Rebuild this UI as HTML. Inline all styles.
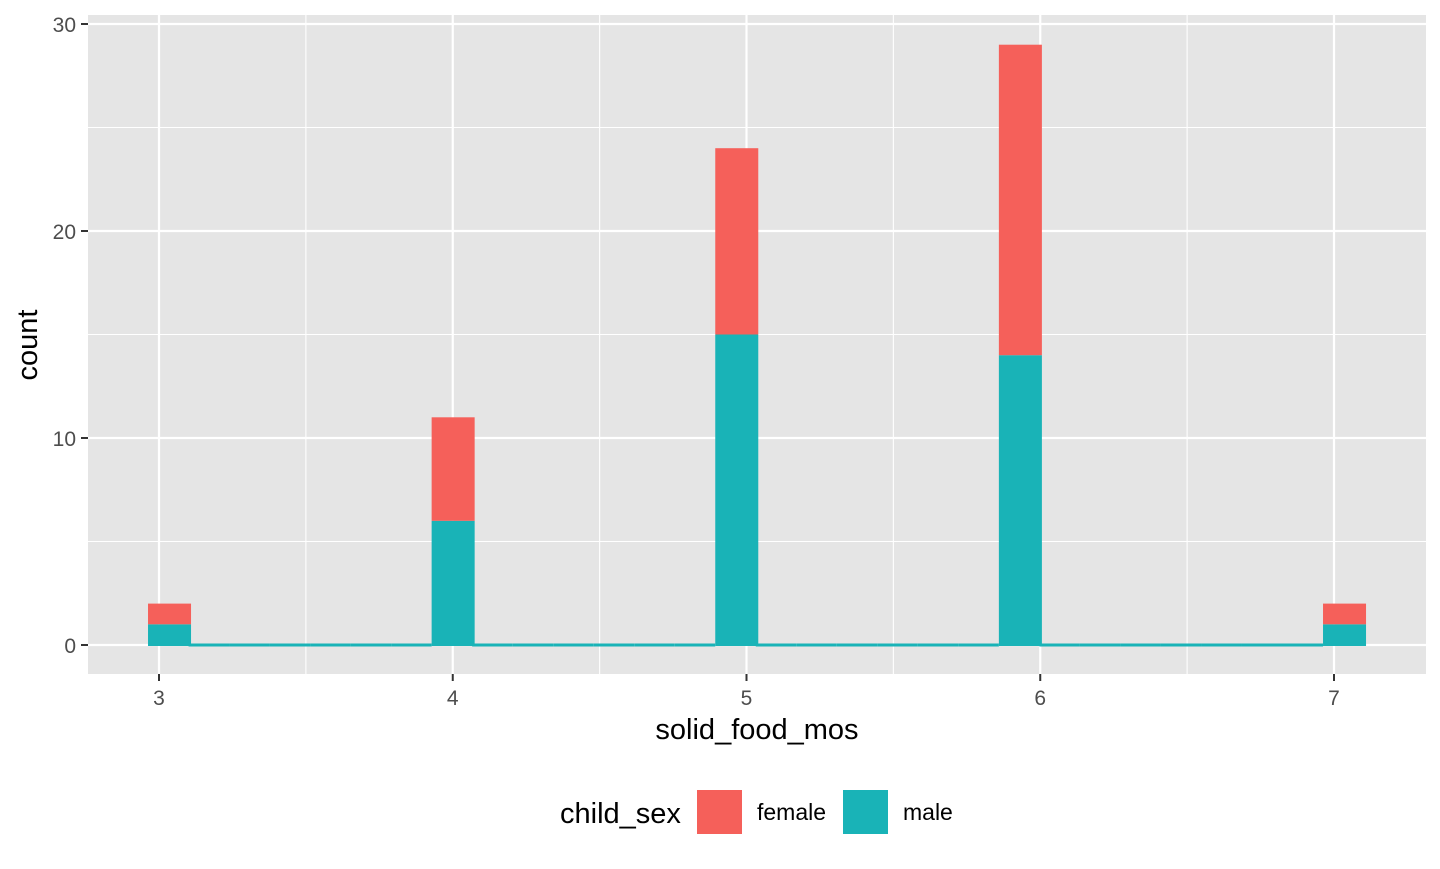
<!DOCTYPE html>
<html><head><meta charset="utf-8"><style>
body{margin:0;background:#fff;}
text{font-family:"Liberation Sans",Arial,sans-serif;}
</style></head><body>
<svg id="chart" width="1440" height="864" xmlns="http://www.w3.org/2000/svg">
<rect x="88" y="15" width="1338" height="659" fill="#e5e5e5"/>
<g id="grid"></g>
<g id="bars"></g>
<g id="axes"></g>
<text x="757" y="739" font-size="29" text-anchor="middle" fill="#000">solid_food_mos</text>
<text x="37" y="345" font-size="29" text-anchor="middle" fill="#000" transform="rotate(-90 37 345)">count</text>
<g>
<text x="560" y="823" font-size="29" fill="#000">child_sex</text>
<rect x="697" y="790" width="45" height="44" fill="#f5605a"/>
<text x="757" y="820" font-size="23" fill="#000">female</text>
<rect x="843" y="790" width="45" height="44" fill="#19b3b7"/>
<text x="903" y="820" font-size="23" fill="#000">male</text>
</g>
</svg>
<script>
const binStart = 2.9626;
const binWidth = 4/29;
const maleCounts =   [1,0,0,0,0,0,0,6,0,0,0,0,0,0,15,0,0,0,0,0,0,14,0,0,0,0,0,0,0,1];
const femaleCounts = [1,0,0,0,0,0,0,5,0,0,0,0,0,0,9,0,0,0,0,0,0,15,0,0,0,0,0,0,0,1];
const xTicks = [3,4,5,6,7];
const xMinor = [3.5,4.5,5.5,6.5];
const yTicks = [0,10,20,30];
const yMinor = [5,15,25];

const NS="http://www.w3.org/2000/svg";
const X = v => 159 + (v-3)*293.75;
const Y = v => 645 - v*20.7;
function mk(tag, attrs, parent){const e=document.createElementNS(NS,tag);for(const k in attrs)e.setAttribute(k,attrs[k]);parent.appendChild(e);return e;}
const grid=document.getElementById('grid'), bars=document.getElementById('bars'), axes=document.getElementById('axes');
xMinor.forEach(v=>{const l=mk('line',{x1:X(v),x2:X(v),y1:15,y2:674,stroke:'#fff','stroke-width':1.1},grid);

});
yMinor.forEach(v=>{const l=mk('line',{x1:88,x2:1426,y1:Y(v),y2:Y(v),stroke:'#fff','stroke-width':1.1},grid);

});
xTicks.forEach(v=>{const l=mk('line',{x1:X(v),x2:X(v),y1:15,y2:674,stroke:'#fff','stroke-width':2.2},grid);


mk('line',{x1:X(v),x2:X(v),y1:674,y2:681,stroke:'#333','stroke-width':2},axes);
const t=mk('text',{x:X(v),y:705,'font-size':21,'text-anchor':'middle',fill:'#4d4d4d'},axes);t.textContent=v;

});
yTicks.forEach(v=>{const l=mk('line',{x1:88,x2:1426,y1:Y(v),y2:Y(v),stroke:'#fff','stroke-width':2.2},grid);


mk('line',{x1:81,x2:88,y1:Y(v),y2:Y(v),stroke:'#333','stroke-width':2},axes);
const t=mk('text',{x:76,y:Y(v)+8,'font-size':21,'text-anchor':'end',fill:'#4d4d4d'},axes);t.textContent=v;

});
maleCounts.forEach((m,i)=>{
  const f=femaleCounts[i];
  const x0=X(binStart+i*binWidth), x1=X(binStart+(i+1)*binWidth);
  if(m+f===0){
    const z=mk('rect',{x:x0,y:Y(0)-1.5,width:x1-x0,height:3,fill:'#19b3b7'},bars);
    
    
    return;
  }
  const rm=mk('rect',{x:x0,y:Y(m),width:x1-x0+2.5,height:Y(0)-Y(m)+1,fill:'#19b3b7'},bars);
  
  
  const rf=mk('rect',{x:x0,y:Y(m+f),width:x1-x0+2.5,height:Y(m)-Y(m+f),fill:'#f5605a'},bars);
  
  
});
</script>
</body></html>
